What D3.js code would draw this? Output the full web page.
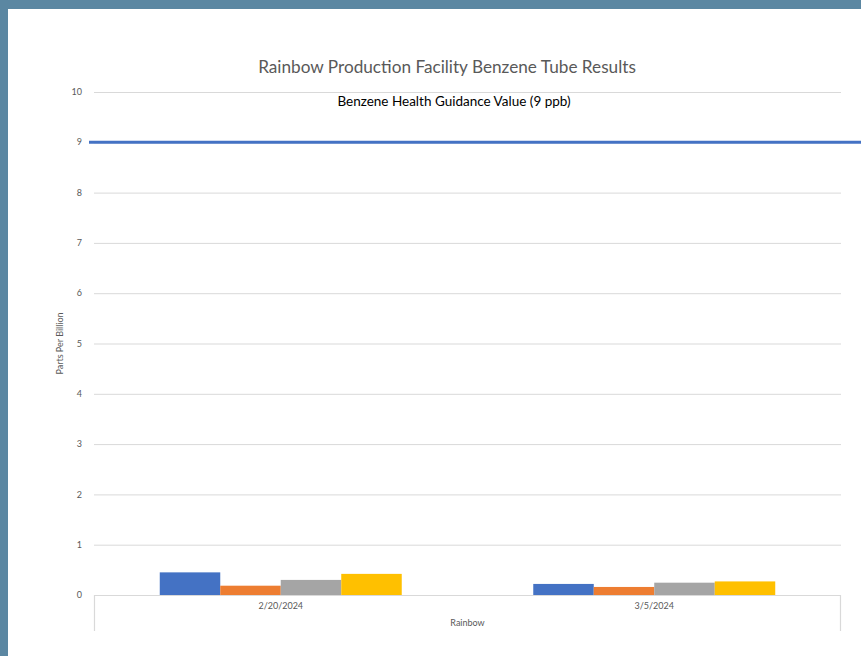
<!DOCTYPE html>
<html>
<head>
<meta charset="utf-8">
<script src="https://cdn.jsdelivr.net/npm/d3@7"></script>
<style>
  html, body { margin: 0; padding: 0; background: #5b87a2; }
  svg { display: block; }
</style>
</head>
<body>
<svg id="chart" width="861" height="656"></svg>
<script>
const title = "Rainbow Production Facility Benzene Tube Results";
const categories = ["2/20/2024", "3/5/2024"];
const groupLabel = "Rainbow";
const seriesNames = ["Sample 1", "Sample 2", "Sample 3", "Sample 4"];
const seriesColors = ["#4472C4", "#ED7D31", "#A5A5A5", "#FFC000"];
const series1 = [0.45, 0.22];
const series2 = [0.185, 0.16];
const series3 = [0.30, 0.245];
const series4 = [0.42, 0.27];
const yTicks = [0, 1, 2, 3, 4, 5, 6, 7, 8, 9, 10];
const guidanceValue = 9;
const guidanceLabel = "Benzene Health Guidance Value (9 ppb)";
const yTitle = "Parts Per Billion";

const allSeries = [series1, series2, series3, series4];
const svg = d3.select("#chart");
const font = "Lato, 'Open Sans', sans-serif";

// white panel
svg.append("rect").attr("x", 8).attr("y", 9).attr("width", 861 - 8).attr("height", 656 - 9).attr("fill", "#ffffff");

const pLeft = 94, pRight = 841, pTop = 92, pBottom = 595;
const x0 = d3.scaleBand().domain(categories).range([pLeft, pRight]).paddingInner(0).paddingOuter(0);
const x1 = d3.scaleBand().domain(d3.range(seriesNames.length)).range([0, x0.bandwidth()]).paddingInner(0).paddingOuter(1.087);
const y = d3.scaleLinear().domain([0, 10]).range([pBottom, pTop]);

// gridlines
svg.append("g").selectAll("line").data(yTicks.filter(t => t > 0)).join("line")
  .attr("x1", pLeft).attr("x2", pRight)
  .attr("y1", d => y(d) + 0.5).attr("y2", d => y(d) + 0.5)
  .attr("stroke", "#d9d9d9").attr("stroke-width", 1);

// y tick labels
svg.append("g").selectAll("text").data(yTicks).join("text")
  .attr("x", 82).attr("y", d => y(d)).attr("dy", "0.35em")
  .attr("text-anchor", "end")
  .attr("font-family", font).attr("font-size", 9).attr("fill", "#595959")
  .text(d => d);

// bars
const groups = svg.append("g").selectAll("g").data(categories).join("g")
  .attr("transform", c => `translate(${x0(c)},0)`);
groups.selectAll("rect").data((c, ci) => allSeries.map((s, si) => ({ si, v: s[ci] }))).join("rect")
  .attr("x", d => x1(d.si)).attr("width", x1.bandwidth())
  .attr("y", d => y(d.v)).attr("height", d => y(0) - y(d.v))
  .attr("fill", d => seriesColors[d.si]);

// x axis line and outer ticks
const axisG = svg.append("g").attr("stroke", "#d9d9d9").attr("stroke-width", 1.2).attr("fill", "none");
axisG.append("path").attr("d", `M${pLeft + 0.5},${pBottom + 36}V${pBottom + 0.5}H${pRight - 0.5}V${pBottom + 36}`);

// x category labels
svg.append("g").selectAll("text").data(categories).join("text")
  .attr("x", c => x0(c) + x0.bandwidth() / 2).attr("y", pBottom + 14)
  .attr("text-anchor", "middle")
  .attr("font-family", font).attr("font-size", 9).attr("fill", "#595959")
  .text(c => c);

svg.append("text").attr("x", (pLeft + pRight) / 2).attr("y", pBottom + 31)
  .attr("text-anchor", "middle")
  .attr("font-family", font).attr("font-size", 9).attr("fill", "#595959")
  .text(groupLabel);

// guidance line
svg.append("line").attr("x1", 89).attr("x2", 861)
  .attr("y1", y(guidanceValue)).attr("y2", y(guidanceValue))
  .attr("stroke", "#4472C4").attr("stroke-width", 3);

svg.append("text").attr("x", 454).attr("y", 106)
  .attr("text-anchor", "middle")
  .attr("font-family", font).attr("font-size", 13.5).attr("fill", "#000000")
  .text(guidanceLabel);

// title
svg.append("text").attr("x", 447).attr("y", 73)
  .attr("text-anchor", "middle")
  .attr("font-family", font).attr("font-size", 17.2).attr("fill", "#595959")
  .text(title);

// y title
svg.append("text")
  .attr("transform", `translate(63,${(pTop + pBottom) / 2}) rotate(-90)`)
  .attr("text-anchor", "middle")
  .attr("font-family", font).attr("font-size", 9).attr("fill", "#595959")
  .text(yTitle);
</script>
</body>
</html>
